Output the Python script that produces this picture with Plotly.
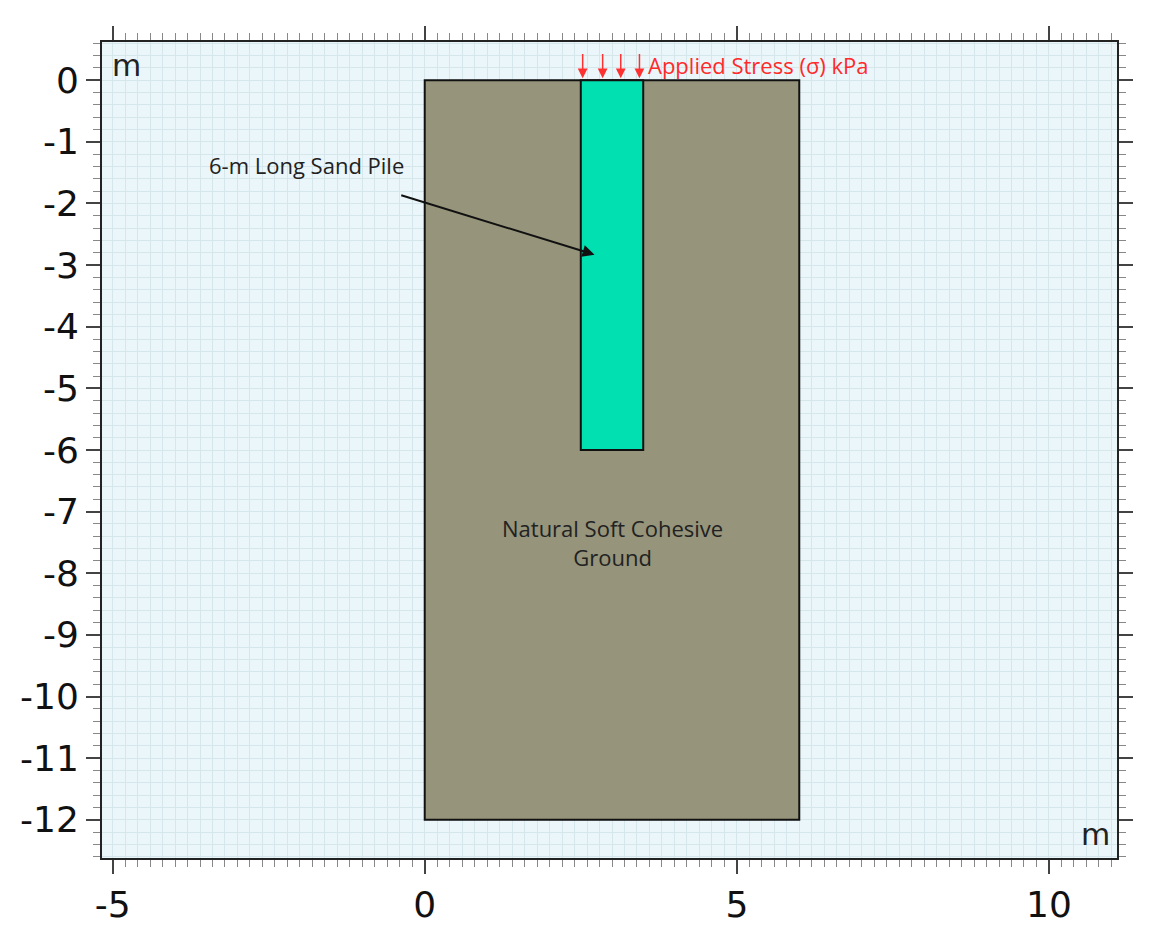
import plotly.graph_objects as go

ground_x = [0, 6]
ground_y = [-12, 0]
pile_x = [2.5, 3.5]
pile_y = [-6, 0]
stress_x = [2.53, 2.85, 3.14, 3.44]
x_ticks = [-5, 0, 5, 10]
y_ticks = list(range(0, -13, -1))

fig = go.Figure()
fig.add_trace(go.Scatter(x=[-5.17, 11.09], y=[0.62, -12.62], mode="markers",
                         marker=dict(opacity=0), hoverinfo="skip", showlegend=False))
fig.add_shape(type="rect", x0=ground_x[0], x1=ground_x[1], y0=ground_y[0], y1=ground_y[1],
              fillcolor="#96947a", line=dict(color="#111", width=2), layer="above")
fig.add_shape(type="rect", x0=pile_x[0], x1=pile_x[1], y0=pile_y[0], y1=pile_y[1],
              fillcolor="#00e0b0", line=dict(color="#111", width=2), layer="above")
for sx in stress_x:
    fig.add_annotation(x=sx, y=0.03, ax=sx, ay=0.45, xref="x", yref="y", axref="x", ayref="y",
                       text="", showarrow=True, arrowhead=2, arrowsize=1.3, arrowwidth=1.5,
                       arrowcolor="#ff3030")
fig.add_annotation(x=3.55, y=0.25, text="Applied Stress (σ) kPa", showarrow=False,
                   xanchor="left", font=dict(color="#ff2a2a", size=22, family="Open Sans"))
fig.add_annotation(x=2.72, y=-2.83, ax=-0.4, ay=-1.86, xref="x", yref="y", axref="x", ayref="y",
                   text="", showarrow=True, arrowhead=2, arrowsize=1.2, arrowwidth=2, arrowcolor="#111")
fig.add_annotation(x=-1.9, y=-1.38, text="6-m Long Sand Pile", showarrow=False,
                   font=dict(color="#222", size=22, family="Open Sans"))
fig.add_annotation(x=3.0, y=-7.5, text="Natural Soft Cohesive<br>Ground", showarrow=False,
                   font=dict(color="#222", size=22, family="Open Sans"))
fig.add_annotation(xref="paper", yref="paper", x=0.008, y=0.995, text="m", showarrow=False,
                   xanchor="left", yanchor="top", font=dict(size=30, color="#222", family="DejaVu Sans"))
fig.add_annotation(xref="paper", yref="paper", x=0.995, y=0.005, text="m", showarrow=False,
                   xanchor="right", yanchor="bottom", font=dict(size=30, color="#222", family="DejaVu Sans"))

axcommon = dict(showline=True, linecolor="#222", linewidth=2, mirror="allticks",
                ticks="outside", ticklen=14, tickwidth=2, tickcolor="#444", automargin=False,
                showgrid=True, gridcolor="#d6e7ec", gridwidth=1, zeroline=False,
                tickfont=dict(size=36, color="#111", family="DejaVu Sans"),
                minor=dict(ticks="outside", ticklen=7, tickcolor="#888", tickwidth=1,
                           dtick=0.2, showgrid=True, gridcolor="#d6e7ec", gridwidth=1))
fig.update_xaxes(range=[-5.17, 11.09], tickvals=x_ticks, ticktext=[str(v) for v in x_ticks], **axcommon)
fig.update_yaxes(range=[-12.62, 0.62], tickvals=y_ticks, ticktext=[str(v) for v in y_ticks], **axcommon)
fig.update_layout(width=1147, height=916, margin=dict(l=94, r=38, t=34, b=66),
                  plot_bgcolor="#eaf6f9", paper_bgcolor="white", showlegend=False)
fig.write_html("out.html")
